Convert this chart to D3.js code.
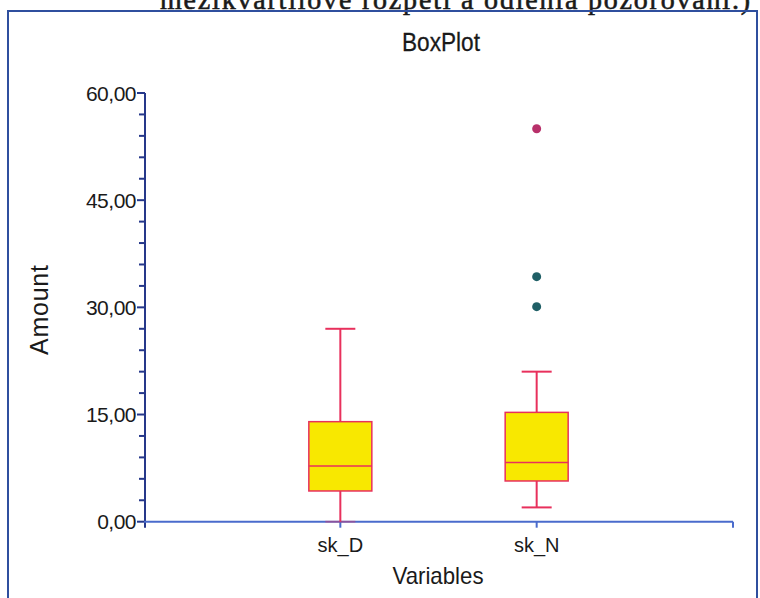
<!DOCTYPE html>
<html>
<head>
<meta charset="UTF-8" />
<script src="https://d3js.org/d3.v7.min.js"></script>
<title>BoxPlot</title>
<style>
  body { margin: 0; background: white; }
  svg { display: block; }
  text { font-family: "Liberation Sans", Arial, sans-serif; fill: #1a1a1a; }
</style>
</head>
<body>
<div id="chart"></div>
<script>
// box statistics
const variables = ["sk_D", "sk_N"];
const minVals = [0, 2.0];
const q1Vals = [4.3, 5.7];
const medVals = [7.8, 8.3];
const q3Vals = [14.0, 15.3];
const maxVals = [27.0, 21.0];
// outliers: [variable index, value, extreme?]
const outlierVar = [1, 1, 1];
const outlierVal = [55.0, 34.3, 30.1];
const outlierExtreme = [true, false, false];
const yTicks = [0, 15, 30, 45, 60];

const W = 760, H = 598;
const svg = d3.select("#chart").append("svg").attr("width", W).attr("height", H);

// clipped caption from the scanned page above the chart
svg.append("text")
  .attr("x", 160).attr("y", 9)
  .attr("textLength", 590)
  .style("font-family", "'Liberation Serif', 'DejaVu Serif', serif")
  .style("font-size", "28px")
  .style("stroke", "#1a1a1a").style("stroke-width", 0.6)
  .text("mezikvartilové rozpětí a odlehlá pozorování.)");

// frame
svg.append("rect")
  .attr("x", 8).attr("y", 11).attr("width", 749).attr("height", 620)
  .attr("fill", "none").attr("stroke", "#2f4f9e").attr("stroke-width", 2);

const x = d3.scaleLinear().domain([0, 3]).range([144, 733]);
const y = d3.scaleLinear().domain([0, 60]).range([521.7, 93]);

const loc = d3.formatLocale({decimal: ",", thousands: ".", grouping: [3], currency: ["", ""]});
const fmt = loc.format(".2f");

// y axis
const yAxis = svg.append("g").attr("transform", "translate(145,0)");
yAxis.append("line")
  .attr("y1", y(60)).attr("y2", y(0) + 6)
  .attr("stroke", "#26388a").attr("stroke-width", 2);
yAxis.selectAll("line.minor").data(d3.range(0, 61, 3)).join("line")
  .attr("class", "minor")
  .attr("x1", d => yTicks.includes(d) ? -8 : -6).attr("x2", 0)
  .attr("y1", d => y(d)).attr("y2", d => y(d))
  .attr("stroke", "#26388a").attr("stroke-width", 2);
yAxis.selectAll("text").data(yTicks).join("text")
  .attr("x", -9).attr("y", d => y(d)).attr("dy", "0.36em")
  .attr("text-anchor", "end")
  .style("font-size", "21px")
  .style("letter-spacing", "-0.5px")
  .text(d => fmt(d));

// x axis
const xAxis = svg.append("g");
xAxis.append("line")
  .attr("x1", 144).attr("x2", 733).attr("y1", y(0)).attr("y2", y(0))
  .attr("stroke", "#4a6bcc").attr("stroke-width", 2);
xAxis.selectAll("line.tick").data([1, 2, 3]).join("line")
  .attr("class", "tick")
  .attr("x1", d => x(d)).attr("x2", d => x(d))
  .attr("y1", y(0)).attr("y2", y(0) + 6)
  .attr("stroke", "#4a6bcc").attr("stroke-width", 2);
xAxis.selectAll("text").data(variables).join("text")
  .attr("x", (d, i) => x(i + 1)).attr("y", 552)
  .attr("text-anchor", "middle")
  .style("font-size", "20px")
  .text(d => d);

// boxes
const boxW = 63, capW = 30;
const red = "#e8305c";
const boxes = svg.append("g").selectAll("g").data(variables).join("g");
boxes.append("line")
  .attr("x1", (d, i) => x(i + 1)).attr("x2", (d, i) => x(i + 1))
  .attr("y1", (d, i) => y(maxVals[i])).attr("y2", (d, i) => y(minVals[i]))
  .attr("stroke", red).attr("stroke-width", 2);
boxes.append("line")
  .attr("x1", (d, i) => x(i + 1) - capW / 2).attr("x2", (d, i) => x(i + 1) + capW / 2)
  .attr("y1", (d, i) => y(maxVals[i])).attr("y2", (d, i) => y(maxVals[i]))
  .attr("stroke", red).attr("stroke-width", 2);
boxes.append("line")
  .attr("x1", (d, i) => x(i + 1) - capW / 2).attr("x2", (d, i) => x(i + 1) + capW / 2)
  .attr("y1", (d, i) => y(minVals[i])).attr("y2", (d, i) => y(minVals[i]))
  .attr("stroke", red).attr("stroke-width", 2).attr("stroke-opacity", (d, i) => minVals[i] === 0 ? 0.4 : 1);
boxes.append("rect")
  .attr("x", (d, i) => x(i + 1) - boxW / 2)
  .attr("y", (d, i) => y(q3Vals[i]))
  .attr("width", boxW)
  .attr("height", (d, i) => y(q1Vals[i]) - y(q3Vals[i]))
  .attr("fill", "#f8e800").attr("stroke", red).attr("stroke-width", 1.5);
boxes.append("line")
  .attr("x1", (d, i) => x(i + 1) - boxW / 2).attr("x2", (d, i) => x(i + 1) + boxW / 2)
  .attr("y1", (d, i) => y(medVals[i])).attr("y2", (d, i) => y(medVals[i]))
  .attr("stroke", red).attr("stroke-width", 1.5);

// outliers
svg.append("g").selectAll("circle").data(outlierVal).join("circle")
  .attr("cx", (d, i) => x(outlierVar[i] + 1))
  .attr("cy", d => y(d))
  .attr("r", 4.5)
  .attr("fill", (d, i) => outlierExtreme[i] ? "#b8306a" : "#1f5f66");

// titles
svg.append("text")
  .attr("x", 441).attr("y", 51).attr("text-anchor", "middle")
  .attr("textLength", 78).attr("lengthAdjust", "spacingAndGlyphs")
  .style("font-size", "26px")
  .style("stroke", "#1a1a1a").style("stroke-width", 0.3)
  .text("BoxPlot");
svg.append("text")
  .attr("transform", "translate(48,310) rotate(-90)")
  .attr("text-anchor", "middle")
  .attr("textLength", 90)
  .style("font-size", "25px")
  .text("Amount");
svg.append("text")
  .attr("x", 438).attr("y", 584).attr("text-anchor", "middle")
  .attr("textLength", 91).attr("lengthAdjust", "spacingAndGlyphs")
  .style("font-size", "24px")
  .text("Variables");
</script>
</body>
</html>
